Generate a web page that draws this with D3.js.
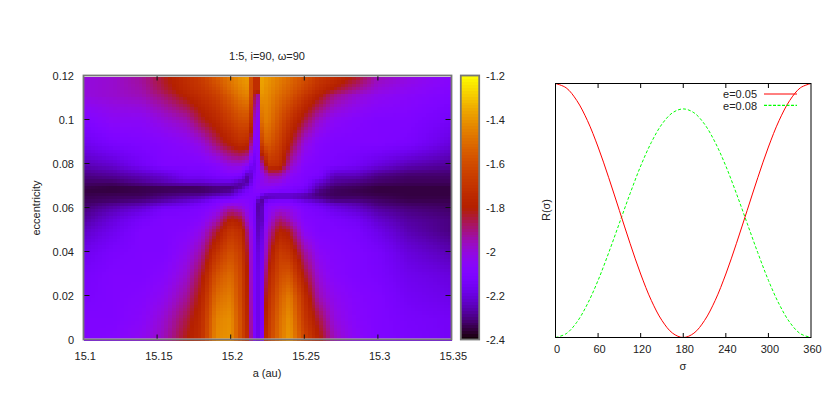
<!DOCTYPE html>
<html><head><meta charset="utf-8">
<script src="https://cdn.jsdelivr.net/npm/d3@7"></script>
<style>
html,body{margin:0;padding:0;background:#fff}
svg{display:block}
text{font-family:"Liberation Sans",Arial,sans-serif;font-size:11px;fill:#222}
</style></head><body>
<svg id="c" width="830" height="416"></svg>
<script>
const aKnots=[15.1,15.12,15.14,15.155,15.17,15.18,15.19,15.2,15.207,15.212,15.215,15.217,15.219,15.221,15.223,15.226,15.233,15.24,15.25,15.26,15.27,15.285,15.3,15.32,15.35];
const eKnots=[0.12,0.114,0.112,0.10,0.09,0.08,0.075,0.072,0.07,0.068,0.066,0.064,0.062,0.06,0.055,0.05,0.04,0.03,0.02,0.01,0];
const grid=[
[-2.0,-1.98,-1.92,-1.82,-1.72,-1.66,-1.55,-1.46,-1.4,-1.38,-1.72,-1.72,-1.72,-1.36,-1.38,-1.4,-1.45,-1.5,-1.58,-1.68,-1.72,-1.82,-1.95,-2.0,-2.07],
[-2.0,-1.98,-1.94,-1.85,-1.75,-1.7,-1.62,-1.5,-1.44,-1.42,-1.72,-1.72,-1.72,-1.38,-1.4,-1.42,-1.48,-1.54,-1.64,-1.74,-1.82,-1.92,-2.0,-2.04,-2.09],
[-2.0,-1.98,-1.95,-1.88,-1.78,-1.72,-1.65,-1.54,-1.46,-1.44,-1.7,-1.92,-1.92,-1.4,-1.41,-1.43,-1.5,-1.56,-1.68,-1.79,-1.9,-1.98,-2.03,-2.06,-2.1],
[-2.1,-2.05,-2.05,-2.0,-1.95,-1.84,-1.76,-1.66,-1.6,-1.6,-1.8,-2.08,-2.05,-1.5,-1.45,-1.47,-1.58,-1.7,-1.85,-1.98,-2.05,-2.08,-2.1,-2.1,-2.15],
[-2.17,-2.12,-2.1,-2.08,-2.05,-2.0,-1.88,-1.78,-1.72,-1.75,-2.0,-2.12,-2.08,-1.65,-1.55,-1.55,-1.65,-1.8,-2.0,-2.08,-2.1,-2.1,-2.1,-2.12,-2.2],
[-2.25,-2.22,-2.15,-2.1,-2.1,-2.1,-2.07,-2.0,-2.0,-2.05,-2.2,-2.15,-2.08,-1.95,-1.85,-1.7,-1.72,-1.95,-2.08,-2.1,-2.12,-2.15,-2.2,-2.25,-2.28],
[-2.3,-2.28,-2.25,-2.22,-2.15,-2.15,-2.12,-2.1,-2.12,-2.28,-2.18,-2.1,-2.08,-2.05,-2.0,-1.95,-1.95,-2.05,-2.1,-2.12,-2.25,-2.25,-2.3,-2.32,-2.32],
[-2.32,-2.32,-2.28,-2.25,-2.22,-2.22,-2.2,-2.2,-2.27,-2.27,-2.12,-2.08,-2.06,-2.03,-2.02,-2.0,-2.02,-2.07,-2.1,-2.22,-2.28,-2.3,-2.32,-2.33,-2.33],
[-2.34,-2.35,-2.34,-2.33,-2.33,-2.32,-2.3,-2.3,-2.27,-2.17,-2.1,-2.08,-2.06,-2.05,-2.05,-2.05,-2.07,-2.1,-2.13,-2.26,-2.32,-2.33,-2.35,-2.35,-2.35],
[-2.35,-2.35,-2.34,-2.33,-2.32,-2.32,-2.3,-2.28,-2.18,-2.12,-2.1,-2.08,-2.08,-2.08,-2.08,-2.1,-2.12,-2.12,-2.17,-2.3,-2.33,-2.34,-2.35,-2.35,-2.35],
[-2.34,-2.33,-2.33,-2.3,-2.28,-2.27,-2.23,-2.2,-2.12,-2.1,-2.1,-2.1,-2.12,-2.2,-2.27,-2.28,-2.27,-2.27,-2.28,-2.31,-2.33,-2.33,-2.34,-2.35,-2.35],
[-2.33,-2.32,-2.3,-2.27,-2.23,-2.2,-2.12,-2.1,-2.07,-2.08,-2.1,-2.12,-2.25,-2.28,-2.2,-2.15,-2.13,-2.13,-2.2,-2.25,-2.3,-2.3,-2.32,-2.34,-2.34],
[-2.32,-2.28,-2.25,-2.2,-2.17,-2.13,-2.08,-2.0,-2.03,-2.07,-2.1,-2.15,-2.28,-2.27,-2.12,-2.08,-2.06,-2.07,-2.12,-2.17,-2.22,-2.25,-2.3,-2.32,-2.33],
[-2.3,-2.25,-2.2,-2.13,-2.12,-2.1,-2.05,-1.92,-1.97,-2.05,-2.1,-2.15,-2.28,-2.26,-2.1,-2.06,-2.0,-2.02,-2.1,-2.13,-2.18,-2.22,-2.27,-2.3,-2.32],
[-2.27,-2.2,-2.13,-2.1,-2.1,-2.07,-1.96,-1.78,-1.83,-2.0,-2.1,-2.16,-2.26,-2.26,-2.1,-2.02,-1.88,-1.96,-2.08,-2.1,-2.12,-2.15,-2.22,-2.27,-2.3],
[-2.23,-2.17,-2.1,-2.1,-2.08,-2.02,-1.85,-1.68,-1.73,-1.92,-2.08,-2.15,-2.25,-2.22,-2.05,-1.95,-1.78,-1.83,-2.05,-2.1,-2.1,-2.12,-2.18,-2.25,-2.3],
[-2.17,-2.12,-2.1,-2.1,-2.03,-1.93,-1.7,-1.58,-1.66,-1.85,-2.08,-2.15,-2.2,-2.18,-2.0,-1.85,-1.66,-1.7,-1.92,-2.05,-2.08,-2.1,-2.13,-2.2,-2.25],
[-2.13,-2.1,-2.1,-2.07,-1.98,-1.84,-1.58,-1.5,-1.63,-1.82,-2.08,-2.15,-2.18,-2.17,-1.92,-1.77,-1.6,-1.56,-1.82,-2.0,-2.07,-2.1,-2.12,-2.17,-2.2],
[-2.12,-2.1,-2.08,-2.03,-1.92,-1.78,-1.5,-1.45,-1.62,-1.8,-2.07,-2.15,-2.18,-2.17,-1.85,-1.72,-1.54,-1.45,-1.72,-1.95,-2.03,-2.08,-2.1,-2.15,-2.18],
[-2.1,-2.1,-2.06,-1.98,-1.85,-1.74,-1.44,-1.41,-1.6,-1.78,-2.05,-2.15,-2.18,-2.17,-1.8,-1.68,-1.5,-1.4,-1.68,-1.85,-2.0,-2.07,-2.1,-2.13,-2.15],
[-2.1,-2.08,-2.03,-1.95,-1.8,-1.72,-1.42,-1.4,-1.6,-1.75,-2.05,-2.15,-2.17,-2.15,-1.75,-1.65,-1.48,-1.38,-1.62,-1.78,-1.95,-2.05,-2.1,-2.12,-2.15]
];
const aTicks=[15.1,15.15,15.2,15.25,15.3,15.35];
const eTicks=[0,0.02,0.04,0.06,0.08,0.1,0.12];
const cbTicks=[-2.4,-2.2,-2,-1.8,-1.6,-1.4,-1.2];
const sigma=[0,15,30,45,60,75,90,105,120,135,150,165,180,195,210,225,240,255,270,285,300,315,330,345,360];
const redE05=[1,.983,.933,.854,.75,.629,.5,.371,.25,.146,.067,.017,0,.017,.067,.146,.25,.371,.5,.629,.75,.854,.933,.983,1];
const greenE08=[0,.015,.06,.132,.225,.334,.45,.566,.675,.768,.84,.885,.9,.885,.84,.768,.675,.566,.45,.334,.225,.132,.06,.015,0];
const sigmaTicks=[0,60,120,180,240,300,360];
const legendLabels=["e=0.05","e=0.08"];

const svg=d3.select("#c");
const BORDER="#777";
const x=d3.scaleLinear().domain([15.1,15.35]).range([83.5,451.5]);
const y=d3.scaleLinear().domain([0,0.12]).range([339.5,75.5]);
const cb=d3.scaleLinear().domain([-2.4,-1.2]).range([339.5,75.5]);
function pal(v){
  const t=Math.max(0,Math.min(1,(v+2.4)/1.2));
  const b=Math.max(0,Math.sin(2*Math.PI*t));
  return d3.rgb(255*Math.sqrt(t),255*t*t*t,255*b).formatHex();
}
function sample(a,e){
  const ei=Math.max(1,Math.min(eKnots.length-1,d3.bisectLeft(eKnots.map(d=>-d),-e)));
  const col=r=>d3.scaleLinear().domain(aKnots).range(grid[r]).clamp(true)(a);
  return d3.scaleLinear().domain([eKnots[ei-1],eKnots[ei]]).range([col(ei-1),col(ei)])(e);
}
// heat map cells
const nx=100,ny=80,da=0.25/nx,de=0.12/ny;
const cells=[];
for(let i=0;i<nx;i++)for(let j=0;j<ny;j++)cells.push({a:15.1+i*da,e:j*de});
const hm=svg.append("g").attr("shape-rendering","crispEdges");
hm.selectAll("rect").data(cells).join("rect")
 .attr("x",d=>x(d.a)).attr("y",d=>y(d.e+de)+1)
 .attr("width",x(da)-x(0)+.6).attr("height",y(0)-y(de)+.6)
 .attr("fill",d=>pal(sample(d.a+da/2,d.e+de/2)));
svg.append("rect").attr("x",83).attr("y",338.6).attr("width",369).attr("height",1.4).attr("fill","#fff");
svg.append("rect").attr("x",83).attr("y",75).attr("width",369).attr("height",1.6).attr("fill","#fff");
// ticks
const tk=svg.append("g").attr("stroke","#111").attr("stroke-width",1);
aTicks.slice(1,-1).forEach(t=>{
 tk.append("line").attr("x1",x(t)).attr("x2",x(t)).attr("y1",339.5).attr("y2",334.5);
 tk.append("line").attr("x1",x(t)).attr("x2",x(t)).attr("y1",75.5).attr("y2",80.5);
});
eTicks.slice(1,-1).forEach(t=>{
 tk.append("line").attr("y1",y(t)).attr("y2",y(t)).attr("x1",83.5).attr("x2",89.5);
 tk.append("line").attr("y1",y(t)).attr("y2",y(t)).attr("x1",451.5).attr("x2",445.5);
});
svg.append("rect").attr("x",83.5).attr("y",75.5).attr("width",368).attr("height",264)
 .attr("fill","none").attr("stroke",BORDER).attr("stroke-width",1.8);
// labels
const T=(xx,yy,s,anc)=>svg.append("text").attr("x",xx).attr("y",yy).attr("text-anchor",anc||"middle").text(s);
aTicks.forEach(t=>T(x(t)+1.8,360,String(t)));
eTicks.forEach(t=>T(74,y(t)+4,String(t),"end"));
T(267,60,"1:5, i=90, ω=90");
T(267,377,"a (au)");
svg.append("text").attr("transform","translate(40,208) rotate(-90)").attr("text-anchor","middle").text("eccentricity");
// colour box
const nb=90,cbG=svg.append("g").attr("shape-rendering","crispEdges");
cbG.selectAll("rect").data(d3.range(nb)).join("rect")
 .attr("x",461).attr("width",18)
 .attr("y",i=>cb(-2.4+(i+1)*1.2/nb)).attr("height",264/nb+.6)
 .attr("fill",i=>pal(-2.4+(i+.5)*1.2/nb));
cbTicks.slice(1,-1).forEach(t=>{
 tk.append("line").attr("x1",461).attr("x2",466).attr("y1",cb(t)).attr("y2",cb(t));
 tk.append("line").attr("x1",474).attr("x2",479).attr("y1",cb(t)).attr("y2",cb(t));
});
svg.append("rect").attr("x",460.8).attr("y",75.5).attr("width",18.4).attr("height",264)
 .attr("fill","none").attr("stroke",BORDER).attr("stroke-width",1.8);
cbTicks.forEach(t=>T(486,cb(t)+4,String(t),"start"));
// right panel
const sx=d3.scaleLinear().domain([0,360]).range([555.5,811]);
const sy=d3.scaleLinear().domain([0,1]).range([337.5,83.5]);
const line=d3.line().x((d,i)=>sx(sigma[i])).y(d=>sy(d)).curve(d3.curveCatmullRom.alpha(0.5));
svg.append("path").attr("d",line(greenE08)).attr("fill","none").attr("stroke","#00ff00").attr("stroke-width",1).attr("stroke-dasharray","3,2");
svg.append("path").attr("d",line(redE05)).attr("fill","none").attr("stroke","#ff0000").attr("stroke-width",1);
svg.append("rect").attr("x",555.5).attr("y",83.5).attr("width",255.5).attr("height",254).attr("fill","none").attr("stroke","#000").attr("stroke-width",1);
const tk2=svg.append("g").attr("stroke","#000");
sigmaTicks.slice(1,-1).forEach(t=>{
 tk2.append("line").attr("x1",sx(t)).attr("x2",sx(t)).attr("y1",337.5).attr("y2",333);
 tk2.append("line").attr("x1",sx(t)).attr("x2",sx(t)).attr("y1",83.5).attr("y2",88);
});
sigmaTicks.forEach(t=>T(sx(t)+1.5,353,String(t)));
T(683,370,"σ");
svg.append("text").attr("transform","translate(550,210) rotate(-90)").attr("text-anchor","middle").text("R(σ)");
// legend
T(757,98,legendLabels[0],"end");
T(757,109.5,legendLabels[1],"end");
svg.append("line").attr("x1",764).attr("x2",797).attr("y1",94).attr("y2",94).attr("stroke","#ff0000").attr("stroke-width",1);
svg.append("line").attr("x1",764).attr("x2",797).attr("y1",105.4).attr("y2",105.4).attr("stroke","#00ff00").attr("stroke-width",1.3).attr("stroke-dasharray","3,1.5");
</script>
</body></html>
